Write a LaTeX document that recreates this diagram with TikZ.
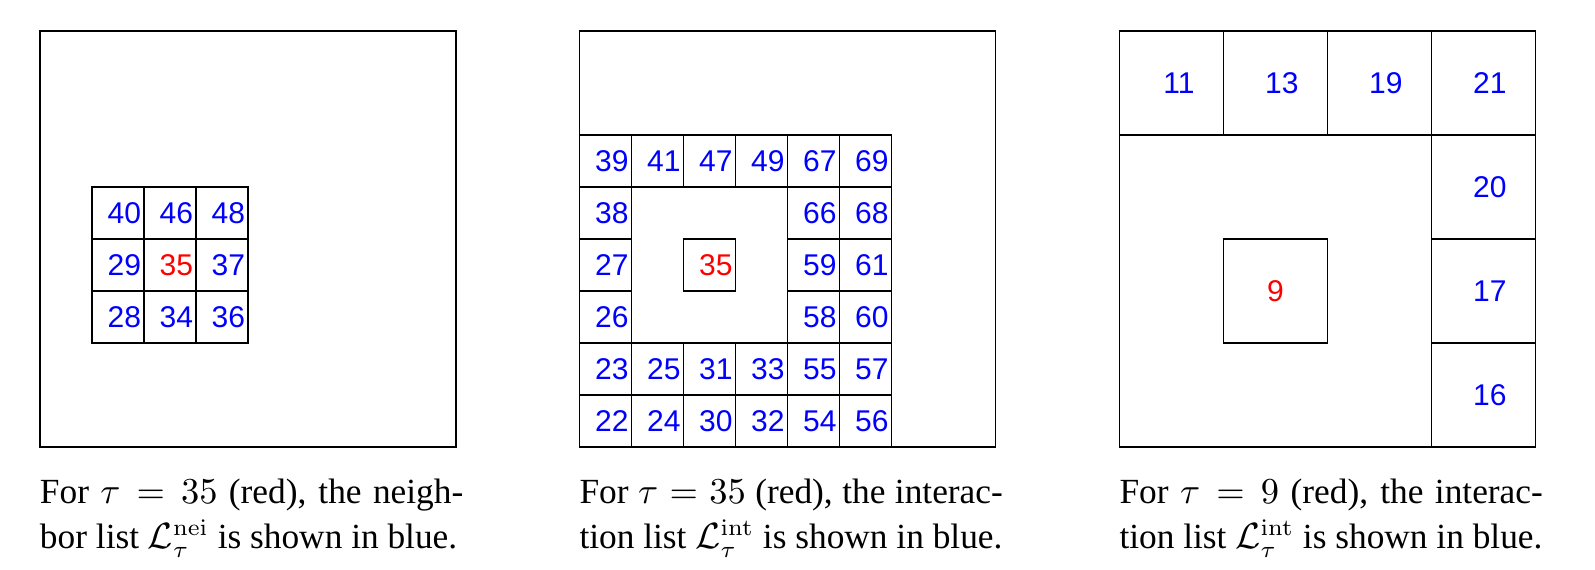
\documentclass[tikz,border=0pt]{standalone}
\usepackage[no-math]{fontspec}
\setmainfont{Liberation Serif}
\newfontfamily\numfont{Liberation Sans}
\usepackage{amsmath}
\usepackage{xcolor}
\usetikzlibrary{positioning}

\tikzset{
  box/.style={draw, minimum size=124.8pt, inner sep=0pt},
  cell/.style={draw, minimum size=15.6pt, inner sep=0pt, text width=13.8pt, align=right,
    text=blue, font=\numfont\fontsize{9pt}{10pt}\selectfont},
  bigcell/.style={cell, minimum size=31.2pt},
  caption/.style={anchor=base west, inner sep=0pt, text width=127pt, align=justify,
    font=\fontsize{10.6pt}{13.5pt}\selectfont}
}

\begin{document}
\begin{tikzpicture}
    \useasboundingbox (0,0) rectangle (478.5pt,171pt);

    \begin{scope}[shift={(12pt,36.9pt)}, x=15.6pt, y=15.6pt]
        \node[box] (box1) at (4,4) {};

        \node[cell] (a40) at (1.5,4.5) {40};
        \node[cell] (a46) at (2.5,4.5) {46};
        \node[cell] (a48) at (3.5,4.5) {48};

        \node[cell] (a29) at (1.5,3.5) {29};
        \node[cell, text=red] (a35) at (2.5,3.5) {35};
        \node[cell] (a37) at (3.5,3.5) {37};

        \node[cell] (a28) at (1.5,2.5) {28};
        \node[cell] (a34) at (2.5,2.5) {34};
        \node[cell] (a36) at (3.5,2.5) {36};

        \node[caption] (cap1) at ([yshift=-16.8pt]box1.south west) {For $\tau = 35$ (red), the neigh-\linebreak bor list $\mathcal{L}_\tau^{\mathrm{nei}}$ is shown in blue.};
    \end{scope}

    \begin{scope}[shift={(173.85pt,36.9pt)}, x=15.6pt, y=15.6pt]
        \node[box] (box2) at (4,4) {};

        \node[cell] (b39) at (0.5,5.5) {39};
        \node[cell] (b41) at (1.5,5.5) {41};
        \node[cell] (b47) at (2.5,5.5) {47};
        \node[cell] (b49) at (3.5,5.5) {49};
        \node[cell] (b67) at (4.5,5.5) {67};
        \node[cell] (b69) at (5.5,5.5) {69};

        \node[cell] (b38) at (0.5,4.5) {38};
        \node[cell] (b66) at (4.5,4.5) {66};
        \node[cell] (b68) at (5.5,4.5) {68};

        \node[cell] (b27) at (0.5,3.5) {27};
        \node[cell, text=red] (b35) at (2.5,3.5) {35};
        \node[cell] (b59) at (4.5,3.5) {59};
        \node[cell] (b61) at (5.5,3.5) {61};

        \node[cell] (b26) at (0.5,2.5) {26};
        \node[cell] (b58) at (4.5,2.5) {58};
        \node[cell] (b60) at (5.5,2.5) {60};

        \node[cell] (b23) at (0.5,1.5) {23};
        \node[cell] (b25) at (1.5,1.5) {25};
        \node[cell] (b31) at (2.5,1.5) {31};
        \node[cell] (b33) at (3.5,1.5) {33};
        \node[cell] (b55) at (4.5,1.5) {55};
        \node[cell] (b57) at (5.5,1.5) {57};

        \node[cell] (b22) at (0.5,0.5) {22};
        \node[cell] (b24) at (1.5,0.5) {24};
        \node[cell] (b30) at (2.5,0.5) {30};
        \node[cell] (b32) at (3.5,0.5) {32};
        \node[cell] (b54) at (4.5,0.5) {54};
        \node[cell] (b56) at (5.5,0.5) {56};

        \node[caption] (cap2) at ([yshift=-16.8pt]box2.south west) {For $\tau = 35$ (red), the interac-\linebreak tion list $\mathcal{L}_\tau^{\mathrm{int}}$ is shown in blue.};
    \end{scope}

    \begin{scope}[shift={(335.85pt,36.9pt)}, x=31.2pt, y=31.2pt]
        \node[box] (box3) at (2,2) {};

        \node[bigcell] (c11) at (0.5,3.5) {11};
        \node[bigcell] (c13) at (1.5,3.5) {13};
        \node[bigcell] (c19) at (2.5,3.5) {19};
        \node[bigcell] (c21) at (3.5,3.5) {21};

        \node[bigcell] (c20) at (3.5,2.5) {20};
        \node[bigcell] (c17) at (3.5,1.5) {17};
        \node[bigcell] (c16) at (3.5,0.5) {16};

        \node[bigcell, align=center, text=red] (c9) at (1.5,1.5) {9};

        \node[caption] (cap3) at ([yshift=-16.8pt]box3.south west) {For $\tau = 9$ (red), the interac-\linebreak tion list $\mathcal{L}_\tau^{\mathrm{int}}$ is shown in blue.};
    \end{scope}
\end{tikzpicture}
\end{document}
